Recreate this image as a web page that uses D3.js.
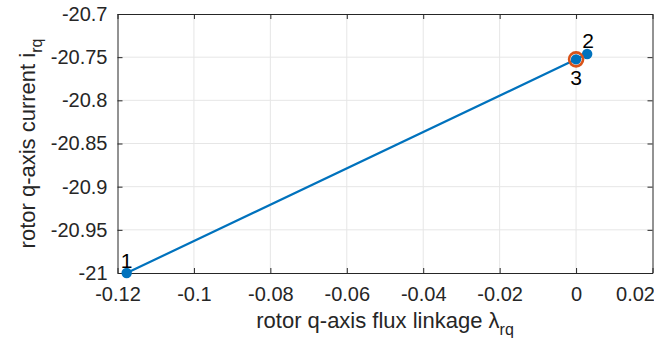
<!DOCTYPE html>
<html>
<head>
<meta charset="utf-8">
<script src="https://cdn.jsdelivr.net/npm/d3@7"></script>
<style>
  body { margin: 0; background: #fff; }
  text { font-family: "Liberation Sans", Arial, sans-serif; fill: #262626; }
</style>
</head>
<body>
<div id="chart"></div>
<script>
// Data
const fluxLinkage = [-0.1176, 0.0029, 0.0000];
const rotorCurrent = [-21.0, -20.7463, -20.7525];
const pointLabels = ["1", "2", "3"];
const xTicks = [-0.12, -0.1, -0.08, -0.06, -0.04, -0.02, 0, 0.02];
const yTicks = [-20.7, -20.75, -20.8, -20.85, -20.9, -20.95, -21];

const width = 654;
const height = 344;
const margin = { top: 14, right: 1.5, bottom: 71, left: 117.5 };
const w = width - margin.left - margin.right;
const h = height - margin.top - margin.bottom;

const svg = d3.select("#chart")
    .append("svg")
    .attr("width", width)
    .attr("height", height);

const g = svg.append("g")
    .attr("transform", `translate(${margin.left},${margin.top})`);

// Scales
const x = d3.scaleLinear().domain([-0.12, 0.02]).range([0, w]);
const y = d3.scaleLinear().domain([-21, -20.7]).range([h, 0]);

// grid
g.append("g").selectAll("line")
    .data(xTicks.slice(1, -1))
    .enter().append("line")
    .attr("x1", d => x(d)).attr("x2", d => x(d))
    .attr("y1", 0).attr("y2", h)
    .attr("stroke", "#e6e6e6").attr("stroke-width", 1);
g.append("g").selectAll("line")
    .data(yTicks.slice(1, -1))
    .enter().append("line")
    .attr("x1", 0).attr("x2", w)
    .attr("y1", d => y(d)).attr("y2", d => y(d))
    .attr("stroke", "#e6e6e6").attr("stroke-width", 1);

// Axes (ticks inward, box on)
const fmt = d => d === 0 ? "0" : String(+d.toFixed(2));
const styleAxis = sel => {
    sel.select(".domain").attr("stroke", "#262626");
    sel.selectAll(".tick line").attr("stroke", "#262626");
    sel.selectAll(".tick text").style("font-size", "20px").attr("fill", "#262626");
};

const xAxis = g.append("g")
    .attr("transform", `translate(0,${h})`)
    .call(d3.axisBottom(x).tickValues(xTicks).tickFormat(fmt).tickSizeInner(-5).tickSizeOuter(0).tickPadding(14))
    .call(styleAxis);
// last label pulled inside the figure, as in the original
xAxis.selectAll(".tick text").filter(d => d === 0.02)
    .attr("text-anchor", "end")
    .attr("x", 2);

g.append("g")
    .call(d3.axisTop(x).tickValues(xTicks).tickFormat("").tickSizeInner(-5).tickSizeOuter(0))
    .call(styleAxis);
g.append("g")
    .call(d3.axisLeft(y).tickValues(yTicks).tickFormat(fmt).tickSizeInner(-5).tickSizeOuter(0).tickPadding(10))
    .call(styleAxis);
g.append("g")
    .attr("transform", `translate(${w},0)`)
    .call(d3.axisRight(y).tickValues(yTicks).tickFormat("").tickSizeInner(-5).tickSizeOuter(0))
    .call(styleAxis);

// trajectory line: 1 -> 3 -> 2
const order = [0, 2, 1];
const line = d3.line().x(i => x(fluxLinkage[i])).y(i => y(rotorCurrent[i]));
g.append("path")
    .datum(order)
    .attr("d", line)
    .attr("fill", "none")
    .attr("stroke", "#0072BD")
    .attr("stroke-width", 2.2);

// points
g.selectAll("circle.pt")
    .data(fluxLinkage)
    .enter().append("circle")
    .attr("class", "pt")
    .attr("cx", d => x(d))
    .attr("cy", (d, i) => y(rotorCurrent[i]))
    .attr("r", 5.2)
    .attr("fill", "#0072BD");

// highlight last point
g.append("circle")
    .attr("cx", x(fluxLinkage[2]))
    .attr("cy", y(rotorCurrent[2]))
    .attr("r", 7)
    .attr("fill", "none")
    .attr("stroke", "#D95319")
    .attr("stroke-width", 2.6);

// point labels
const labelOffset = [[0, -5], [1, -6], [0, 26]];
g.selectAll("text.pl")
    .data(pointLabels)
    .enter().append("text")
    .attr("class", "pl")
    .attr("x", (d, i) => x(fluxLinkage[i]) + labelOffset[i][0])
    .attr("y", (d, i) => y(rotorCurrent[i]) + labelOffset[i][1])
    .attr("text-anchor", "middle")
    .style("font-size", "21px")
    .style("fill", "#000")
    .text(d => d);

// axis labels
const xl = svg.append("text")
    .attr("x", 385)
    .attr("y", 328)
    .attr("text-anchor", "middle")
    .style("font-size", "22px");
xl.append("tspan").text("rotor q-axis flux linkage \u03bb");
xl.append("tspan").attr("dy", 7).style("font-size", "16px").text("rq");

const yl = svg.append("text")
    .attr("transform", `translate(35,${margin.top + h / 2}) rotate(-90)`)
    .attr("text-anchor", "middle")
    .style("font-size", "22px");
yl.append("tspan").text("rotor q-axis current i");
yl.append("tspan").attr("dy", 7).style("font-size", "16px").text("rq");
</script>
</body>
</html>
